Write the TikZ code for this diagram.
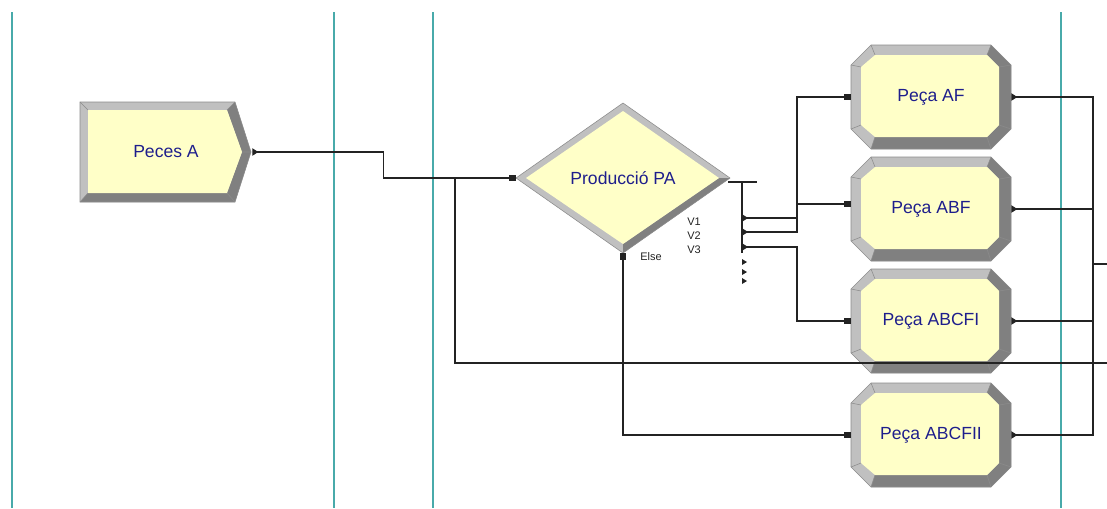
\documentclass[tikz,border=0pt]{standalone}
\usepackage{fontspec}
\setmainfont{Liberation Sans}
\usepackage{tikz}
\usetikzlibrary{arrows.meta, positioning, calc}
\definecolor{modfill}{RGB}{255,255,200}
\definecolor{bevlight}{RGB}{192,192,192}
\definecolor{bevdark}{RGB}{128,128,128}
\definecolor{bevedge}{RGB}{140,140,140}
\definecolor{txtblue}{RGB}{30,30,140}
\definecolor{lanecol}{RGB}{72,170,170}
\definecolor{wirecol}{RGB}{35,35,35}
\tikzset{
  modnode/.style={rectangle, inner sep=0pt, text=txtblue,
    font=\fontsize{12.5}{15}\selectfont},
  createnode/.style={modnode, minimum width=4.3cm, minimum height=2.5cm},
  decidenode/.style={modnode, minimum width=5.35cm, minimum height=3.75cm},
  pecanode/.style={modnode, minimum width=4cm, minimum height=2.6cm},
  small/.style={inner sep=0pt, text=wirecol, font=\fontsize{7.8}{9}\selectfont},
  lane/.style={lanecol, line width=1.4pt},
  wire/.style={wirecol, line width=0.9pt},
  exitwire/.style={wire, {Triangle[reversed, length=4.3pt, width=5.2pt]}-{Square[length=4.6pt, width=4.6pt]}},
  elsewire/.style={wire, {Square[length=4.6pt, width=4.6pt]}-{Square[length=4.6pt, width=4.6pt]}},
  outwire/.style={wire, {Triangle[reversed, length=4.3pt, width=5.2pt]}-}
}
% create module (pentagon)
\newcommand{\createmod}[4]{%
  \begin{scope}[shift={(#2,#3)}]
    \fill[bevlight] (-86,-50) -- (69,-50) -- (85,0) -- (69,50) -- (-86,50) -- cycle;
    \fill[bevdark] (69,-50) -- (85,0) -- (69,50) -- (-86,50) -- (-78,41) -- (61,41) -- (76,0) -- (61,-42) -- cycle;
    \fill[modfill] (-78,-42) -- (61,-42) -- (76,0) -- (61,41) -- (-78,41) -- cycle;
    \draw[bevedge, line width=0.4pt] (-86,-50) -- (69,-50) -- (85,0) -- (69,50) -- (-86,50) -- cycle;
    \draw[bevedge, line width=0.4pt] (-86,-50) -- (-78,-42) (69,-50) -- (61,-42)
      (85,0) -- (76,0) (69,50) -- (61,41) (-86,50) -- (-78,41);
  \end{scope}
  \node[createnode] (#1) at (#2,#3) {#4};
}
% decide module (diamond)
\newcommand{\decidemod}[4]{%
  \begin{scope}[shift={(#2,#3)}]
    \fill[bevlight] (-107,0) -- (0,-75) -- (107,0) -- (0,75) -- cycle;
    \fill[bevdark] (107,0) -- (0,75) -- (0,66) -- (96,0) -- cycle;
    \fill[modfill] (-97,0) -- (0,-67) -- (96,0) -- (0,66) -- cycle;
    \draw[bevedge, line width=0.4pt] (-107,0) -- (0,-75) -- (107,0) -- (0,75) -- cycle;
  \end{scope}
  \node[decidenode] (#1) at (#2,#3) {#4};
}
% process module (octagon)
\newcommand{\pecamod}[4]{%
  \begin{scope}[shift={(#2,#3)}]
    \fill[bevlight] (-60,-52) -- (60,-52) -- (80,-32) -- (80,32) -- (60,52) -- (-60,52) -- (-80,32) -- (-80,-32) -- cycle;
    \fill[bevdark] (60,-52) -- (80,-32) -- (80,32) -- (60,52) -- (-60,52) -- (-56,40) -- (56,40) -- (68,28) -- (68,-30) -- (56,-42) -- cycle;
    \fill[modfill] (-56,-42) -- (56,-42) -- (68,-30) -- (68,28) -- (56,40) -- (-56,40) -- (-70,28) -- (-70,-30) -- cycle;
    \draw[bevedge, line width=0.4pt] (-60,-52) -- (60,-52) -- (80,-32) -- (80,32) -- (60,52) -- (-60,52) -- (-80,32) -- (-80,-32) -- cycle;
    \draw[bevedge, line width=0.4pt] (-60,-52) -- (-56,-42) (60,-52) -- (56,-42) (80,-32) -- (68,-30)
      (80,32) -- (68,28) (60,52) -- (56,40) (-60,52) -- (-56,40) (-80,32) -- (-70,28) (-80,-32) -- (-70,-30);
  \end{scope}
  \node[pecanode] (#1) at (#2,#3) {#4};
}

\begin{document}
\begin{tikzpicture}[x=0.025cm, y=-0.025cm]
  \useasboundingbox (0,0) rectangle (1107,508);
  % swim lanes
  \foreach \x in {12,334,433,1061}
    \draw[lane] (\x,12) -- (\x,508);

  % modules
  \createmod{pecesA}{166}{152}{Peces A}
  \decidemod{produccio}{623}{178}{Producció PA}
  \pecamod{pecaAF}{931}{97}{Peça AF}
  \pecamod{pecaABF}{931}{209}{Peça ABF}
  \pecamod{pecaABCFI}{931}{321}{Peça ABCFI}
  \pecamod{pecaABCFII}{931}{435}{Peça ABCFII}

  % decide exits
  \coordinate (tbarL) at (728,182);
  \coordinate (tbarR) at (757,182);
  \coordinate (tbus) at (742,182);
  \coordinate (tend) at (742,253);
  \coordinate (v1) at (742,218);
  \coordinate (v2) at (742,232);
  \coordinate (v3) at (742,247);
  \node[small, anchor=west] (lv1) at (687,222) {V1};
  \node[small, anchor=west] (lv2) at (687,236) {V2};
  \node[small, anchor=west] (lv3) at (687,250) {V3};
  \node[small, anchor=west] (lelse) at (640,257) {Else};
  \draw[wire] (tbarL) -- (tbarR);
  \draw[wire] (tbus) -- (tend);
  \foreach \y in {262,272,281}
    \fill[wirecol] (742,\y-3) -- (747,\y) -- (742,\y+3) -- cycle;

  % connectors
  \draw[exitwire] (pecesA.east) -- ++(131,0) |- (produccio.west);
  \draw[exitwire] (v1) -- ++(55,0) |- (pecaAF.west);
  \draw[exitwire] (v2) -- ++(55,0) |- ([yshift=3.5pt]pecaABF.west);
  \draw[exitwire] (v3) -- ++(55,0) |- (pecaABCFI.west);
  \draw[elsewire] (produccio.south) |- (pecaABCFII.west);

  % incoming from the right
  \coordinate (feedR) at (1107,363);
  \coordinate (feedJ) at (455,178);
  \draw[wire] (feedR) -| (feedJ);

  % outputs
  \coordinate (outJ) at (1093,264);
  \coordinate (outR) at (1107,264);
  \foreach \n in {pecaAF,pecaABF,pecaABCFI,pecaABCFII}
    \draw[outwire] (\n.east) -| (outJ);
  \draw[wire] (outJ) -- (outR);
\end{tikzpicture}
\end{document}
